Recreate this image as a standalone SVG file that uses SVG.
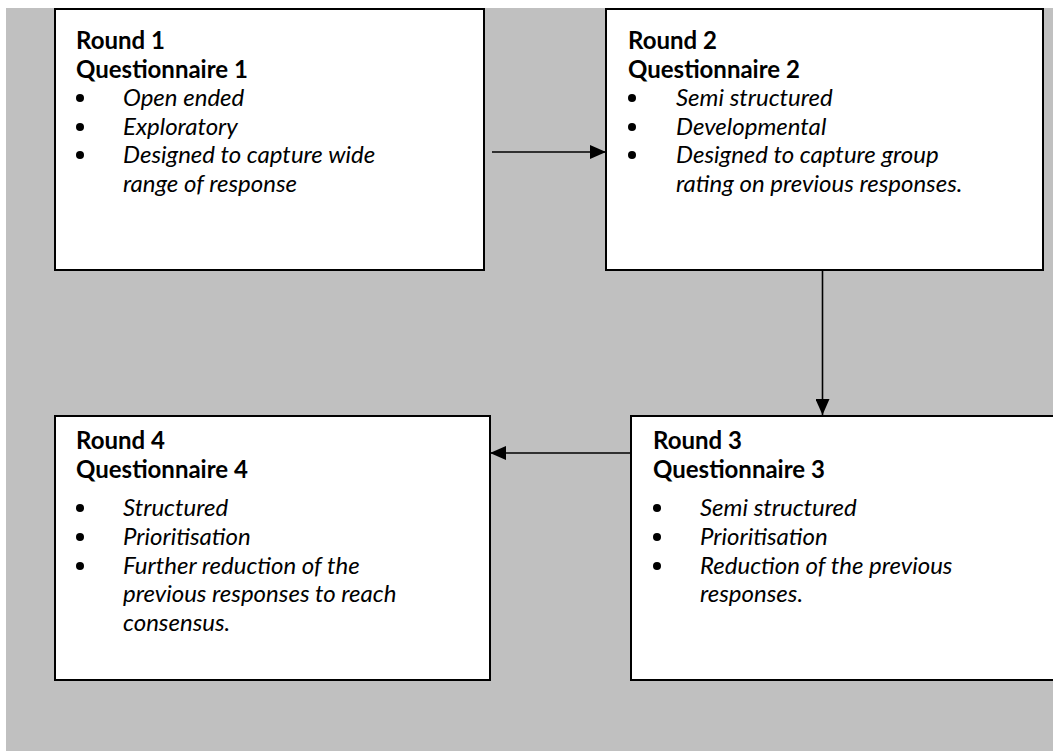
<svg xmlns="http://www.w3.org/2000/svg" width="1053" height="751" viewBox="0 0 1053 751">
<style>
.box{fill:#fff;stroke:#000;stroke-width:2}
.h{font-family:Lato,"Open Sans",sans-serif;font-weight:bold;font-size:24px;fill:#000}
.i{font-family:Lato,"Open Sans",sans-serif;font-style:italic;font-size:24px;fill:#000}
.b{fill:#000}
.conn{stroke:#000;stroke-width:1.6;fill:none;marker-end:url(#ah)}
</style>
<defs>
<marker id="ah" markerUnits="userSpaceOnUse" markerWidth="16" markerHeight="14" refX="16" refY="7" orient="auto">
<path d="M0,0 L16,7 L0,14 Z" fill="#000"/>
</marker>
</defs>
<rect x="0" y="0" width="1053" height="751" fill="#fff"/>
<rect x="6" y="8" width="1047" height="743" fill="#c0c0c0"/>
<g id="round1">
<rect class="box" x="55" y="9" width="429" height="261"/>
<text class="h" x="76" y="49">Round 1</text>
<text class="h" x="76" y="78">Questionnaire 1</text>
<circle class="b" cx="80" cy="98" r="4"/>
<text class="i" x="123" y="106">Open ended</text>
<circle class="b" cx="80" cy="127" r="4"/>
<text class="i" x="123" y="135">Exploratory</text>
<circle class="b" cx="80" cy="155" r="4"/>
<text class="i" x="123" y="163">Designed to capture wide</text>
<text class="i" x="123" y="192">range of response</text>
</g>
<g id="round2">
<rect class="box" x="606" y="9" width="437" height="261"/>
<text class="h" x="628" y="49">Round 2</text>
<text class="h" x="628" y="78">Questionnaire 2</text>
<circle class="b" cx="632" cy="98" r="4"/>
<text class="i" x="676" y="106">Semi structured</text>
<circle class="b" cx="632" cy="127" r="4"/>
<text class="i" x="676" y="135">Developmental</text>
<circle class="b" cx="632" cy="155" r="4"/>
<text class="i" x="676" y="163">Designed to capture group</text>
<text class="i" x="676" y="192">rating on previous responses.</text>
</g>
<g id="round3">
<rect class="box" x="631" y="416" width="440" height="264"/>
<text class="h" x="653" y="449">Round 3</text>
<text class="h" x="653" y="478">Questionnaire 3</text>
<circle class="b" cx="657" cy="508" r="4"/>
<text class="i" x="700" y="516">Semi structured</text>
<circle class="b" cx="657" cy="537" r="4"/>
<text class="i" x="700" y="545">Prioritisation</text>
<circle class="b" cx="657" cy="566" r="4"/>
<text class="i" x="700" y="574">Reduction of the previous</text>
<text class="i" x="700" y="602">responses.</text>
</g>
<g id="round4">
<rect class="box" x="55" y="416" width="435" height="264"/>
<text class="h" x="76" y="449">Round 4</text>
<text class="h" x="76" y="478">Questionnaire 4</text>
<circle class="b" cx="80" cy="508" r="4"/>
<text class="i" x="123" y="516">Structured</text>
<circle class="b" cx="80" cy="537" r="4"/>
<text class="i" x="123" y="545">Prioritisation</text>
<circle class="b" cx="80" cy="566" r="4"/>
<text class="i" x="123" y="574">Further reduction of the</text>
<text class="i" x="123" y="602">previous responses to reach</text>
<text class="i" x="123" y="631">consensus.</text>
</g>
<g id="connectors">
<line class="conn" x1="492" y1="152" x2="606" y2="152"/>
<line class="conn" x1="822.5" y1="270" x2="822.5" y2="415"/>
<line class="conn" x1="631" y1="453" x2="490" y2="453"/>
</g>
</svg>
